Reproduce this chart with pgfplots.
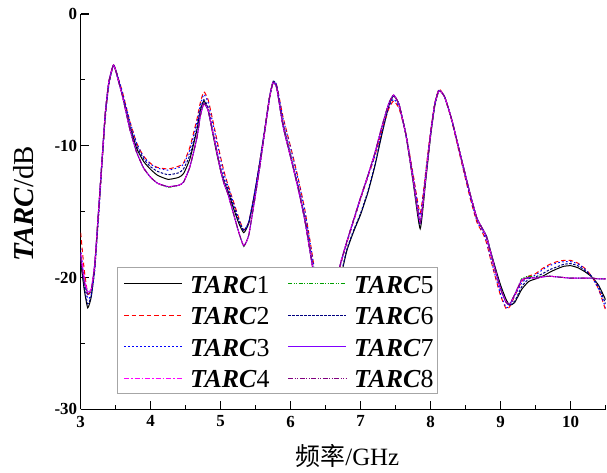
\documentclass[border=0pt]{standalone}
\usepackage{fontspec}
\setmainfont{Liberation Serif}
\newfontfamily\cjk{Noto Sans CJK SC}
\usepackage{pgfplots}
\pgfplotsset{compat=1.18}
\usepackage{pgfplotstable}
\usetikzlibrary{calc}

\definecolor{tarcblack}{RGB}{0,0,0}
\definecolor{tarcred}{RGB}{255,0,0}
\definecolor{tarcblue}{RGB}{0,0,255}
\definecolor{tarcmagenta}{RGB}{255,0,255}
\definecolor{tarcgreen}{RGB}{0,160,0}
\definecolor{tarcnavy}{RGB}{0,0,128}
\definecolor{tarcviolet}{RGB}{128,0,255}
\definecolor{tarcpurple}{RGB}{128,0,128}

\tikzset{
  tarc1/.style={color=tarcblack},
  tarc2/.style={color=tarcred, dash pattern=on 4.5bp off 3bp},
  tarc3/.style={color=tarcblue, dash pattern=on 1.5bp off 2.5bp},
  tarc4/.style={color=tarcmagenta, dash pattern=on 5bp off 2bp on 1.5bp off 2bp},
  tarc5/.style={color=tarcgreen, dash pattern=on 4bp off 1.5bp on 1bp off 1.5bp on 1bp off 1.5bp},
  tarc6/.style={color=tarcnavy, dash pattern=on 2.5bp off 1.5bp},
  tarc7/.style={color=tarcviolet},
  tarc8/.style={color=tarcpurple, dash pattern=on 5bp off 1.5bp on 1bp off 1.5bp on 1bp off 1.5bp},
  keytext/.style={anchor=base west, inner sep=0pt, font=\fontsize{26}{26}\selectfont},
}

\newcommand{\tarc}[1]{\textbf{\textit{TARC}}#1}

% ports 1, 2, 3, 6
\pgfplotstableread{
f     t1     t2     t3     t6
3.00 -18.8  -16.6  -17.8  -18.6
3.05 -20.9  -19.4  -20.2  -20.7
3.10 -22.3  -21.2  -21.6  -22.0
3.15 -21.5  -21.0  -21.3  -21.4
3.20 -19.2  -19.3  -19.6  -19.2
3.25 -15.4  -15.6  -15.9  -15.4
3.30 -11.5  -11.7  -11.9  -11.5
3.35 -7.7   -7.9   -8.0   -7.7
3.40 -5.3   -5.4   -5.5   -5.3
3.47 -3.87  -3.87  -3.87  -3.87
3.55 -5.2   -5.1   -5.1   -5.2
3.60 -6.2   -6.0   -6.0   -6.2
3.70 -8.5   -8.1   -8.1   -8.4
3.80 -10.2  -9.8   -9.8   -10.0
3.90 -11.2  -10.8  -10.85 -11.0
4.00 -11.8  -11.35 -11.4  -11.6
4.10 -12.25 -11.65 -11.7  -11.95
4.25 -12.55 -11.76 -11.85 -12.2
4.40 -12.4  -11.55 -11.65 -12.05
4.47 -12.1  -11.3  -11.4  -11.75
4.56 -11.0  -10.1  -10.3  -10.7
4.66 -8.8   -8.0   -8.2   -8.6
4.71 -7.3   -6.7   -6.9   -7.2
4.76 -6.6   -5.9   -6.1   -6.5
4.82 -7.3   -6.5   -6.7   -7.1
4.88 -8.9   -7.9   -8.1   -8.7
4.94 -10.5  -9.4   -9.6   -10.3
5.00 -11.9  -10.9  -11.1  -11.7
5.05 -12.8  -12.0  -12.2  -12.6
5.10 -13.4  -12.9  -13.0  -13.2
5.18 -14.7  -14.2  -14.3  -14.5
5.26 -15.9  -15.5  -15.6  -15.7
5.33 -16.6  -16.4  -16.4  -16.45
5.40 -15.9  -15.8  -15.8  -15.8
5.47 -14.1  -14.0  -14.0  -14.0
5.55 -11.6  -11.5  -11.5  -11.5
5.63 -8.8   -8.7   -8.7   -8.7
5.70 -6.3   -6.2   -6.2   -6.2
5.75 -5.15  -5.15  -5.15  -5.1
5.80 -5.6   -5.4   -5.4   -5.5
5.89 -8.4   -7.8   -7.9   -8.3
6.00 -10.8  -10.1  -10.2  -10.7
6.10 -13.0  -12.3  -12.4  -12.9
6.20 -15.5  -14.8  -14.9  -15.4
6.30 -18.7  -18.0  -18.1  -18.6
6.40 -22.0  -21.5  -21.6  -22.0
6.50 -24.5  -24.3  -24.3  -24.5
6.60 -23.5  -22.6  -22.6  -23.5
6.70 -20.4  -19.3  -19.3  -20.3
6.80 -18.0  -17.4  -17.4  -17.9
6.90 -16.5  -15.7  -15.7  -16.4
7.00 -15.2  -14.0  -14.0  -15.1
7.10 -13.6  -12.4  -12.4  -13.5
7.20 -11.6  -10.8  -10.8  -11.5
7.30 -9.2   -8.9   -8.9   -9.1
7.40 -7.0   -7.2   -7.1   -7.0
7.47 -6.2   -6.6   -6.45  -6.2
7.55 -6.9   -7.2   -7.1   -6.9
7.65 -9.3   -9.2   -9.2   -9.2
7.75 -12.8  -12.2  -12.3  -12.6
7.85 -16.3  -15.1  -15.3  -16.0
7.93 -12.6  -11.9  -12.0  -12.4
8.00 -9.2   -8.8   -8.9   -9.1
8.06 -6.9   -6.7   -6.7   -6.9
8.12 -5.8   -5.7   -5.75  -5.8
8.20 -6.3   -6.3   -6.3   -6.3
8.30 -8.0   -8.1   -8.1   -8.0
8.42 -10.6  -10.8  -10.7  -10.6
8.56 -13.6  -13.9  -13.8  -13.6
8.66 -15.5  -15.8  -15.7  -15.5
8.75 -16.4  -16.7  -16.6  -16.4
8.80 -16.9  -17.4  -17.3  -16.9
8.85 -17.9  -18.5  -18.4  -17.9
8.92 -19.2  -19.9  -19.8  -19.3
9.00 -20.6  -21.4  -21.3  -20.8
9.08 -21.7  -22.4  -22.3  -21.9
9.13 -22.1  -22.2  -22.1  -22.1
9.20 -21.9  -21.4  -21.4  -21.8
9.30 -20.9  -20.3  -20.4  -20.7
9.40 -20.3  -19.9  -20.0  -20.1
9.50 -20.1  -19.7  -19.8  -19.95
9.60 -19.9  -19.3  -19.4  -19.7
9.70 -19.6  -19.0  -19.1  -19.4
9.80 -19.35 -18.8  -18.9  -19.2
9.90 -19.15 -18.7  -18.8  -19.0
10.00 -19.1 -18.7  -18.8  -18.95
10.10 -19.25 -18.9 -18.95 -19.1
10.20 -19.55 -19.3 -19.35 -19.45
10.30 -19.95 -19.9 -19.95 -19.9
10.40 -20.6 -20.9  -20.9  -20.7
10.50 -21.7 -22.5  -22.3  -22.0
}\tabA

% ports 4, 5, 7, 8
\pgfplotstableread{
f     t4     t5     t7     t8
3.00 -18.1  -18.4  -18.3  -18.5
3.05 -20.0  -20.3  -20.2  -20.4
3.10 -21.1  -21.2  -21.1  -21.3
3.15 -20.9  -21.0  -20.9  -21.0
3.20 -19.0  -19.0  -19.0  -19.1
3.25 -15.3  -15.3  -15.3  -15.4
3.30 -11.4  -11.4  -11.4  -11.5
3.35 -7.6   -7.6   -7.6   -7.6
3.40 -5.2   -5.2   -5.2   -5.2
3.47 -3.87  -3.87  -3.87  -3.87
3.55 -5.3   -5.3   -5.3   -5.3
3.60 -6.3   -6.3   -6.3   -6.3
3.70 -8.7   -8.7   -8.7   -8.7
3.80 -10.5  -10.5  -10.5  -10.5
3.90 -11.7  -11.7  -11.7  -11.7
4.00 -12.4  -12.4  -12.4  -12.4
4.10 -12.85 -12.85 -12.85 -12.85
4.25 -13.1  -13.15 -13.1  -13.1
4.40 -13.0  -13.0  -13.0  -13.0
4.47 -12.75 -12.75 -12.75 -12.75
4.56 -11.6  -11.6  -11.6  -11.6
4.66 -9.4   -9.4   -9.4   -9.4
4.71 -7.7   -7.7   -7.7   -7.7
4.76 -6.8   -6.8   -6.8   -6.8
4.82 -7.3   -7.3   -7.3   -7.3
4.88 -8.8   -8.8   -8.8   -8.8
4.94 -10.3  -10.3  -10.3  -10.3
5.00 -11.9  -11.9  -11.9  -11.9
5.05 -12.9  -12.9  -12.9  -12.9
5.10 -13.6  -13.6  -13.6  -13.6
5.18 -15.1  -15.1  -15.1  -15.1
5.26 -16.6  -16.6  -16.6  -16.6
5.33 -17.6  -17.65 -17.6  -17.6
5.40 -16.8  -16.8  -16.8  -16.8
5.47 -14.6  -14.6  -14.6  -14.6
5.55 -11.9  -11.9  -11.9  -11.9
5.63 -8.9   -8.9   -8.9   -8.9
5.70 -6.3   -6.3   -6.3   -6.3
5.75 -5.2   -5.2   -5.2   -5.2
5.80 -5.6   -5.6   -5.6   -5.6
5.89 -8.5   -8.5   -8.5   -8.5
6.00 -10.9  -10.9  -10.9  -10.9
6.10 -13.1  -13.1  -13.1  -13.1
6.20 -15.6  -15.6  -15.6  -15.6
6.30 -18.8  -18.8  -18.8  -18.8
6.40 -22.0  -22.0  -22.0  -22.0
6.50 -24.3  -24.3  -24.3  -24.3
6.60 -22.6  -22.6  -22.6  -22.6
6.70 -19.2  -19.2  -19.2  -19.2
6.80 -17.3  -17.3  -17.3  -17.3
6.90 -15.6  -15.6  -15.6  -15.6
7.00 -13.9  -13.9  -13.9  -13.9
7.10 -12.3  -12.3  -12.3  -12.3
7.20 -10.6  -10.6  -10.6  -10.6
7.30 -8.6   -8.6   -8.6   -8.6
7.40 -6.8   -6.8   -6.8   -6.8
7.47 -6.15  -6.15  -6.15  -6.15
7.55 -6.9   -6.9   -6.9   -6.9
7.65 -9.3   -9.3   -9.3   -9.3
7.75 -12.6  -12.6  -12.6  -12.6
7.85 -15.8  -15.8  -15.8  -15.8
7.93 -12.3  -12.3  -12.3  -12.3
8.00 -9.0   -9.0   -9.0   -9.0
8.06 -6.8   -6.8   -6.8   -6.8
8.12 -5.8   -5.8   -5.8   -5.8
8.20 -6.3   -6.3   -6.3   -6.3
8.30 -8.0   -8.0   -8.0   -8.0
8.42 -10.6  -10.6  -10.6  -10.6
8.56 -13.6  -13.6  -13.6  -13.6
8.66 -15.5  -15.5  -15.5  -15.5
8.75 -16.4  -16.4  -16.4  -16.4
8.80 -17.0  -17.0  -17.0  -17.0
8.85 -18.0  -18.0  -18.0  -18.0
8.92 -19.4  -19.4  -19.4  -19.4
9.00 -20.9  -20.9  -20.9  -20.9
9.08 -21.9  -21.9  -21.9  -21.9
9.13 -22.0  -22.0  -22.0  -22.0
9.20 -21.3  -21.3  -21.3  -21.3
9.30 -20.2  -20.1  -20.2  -20.2
9.40 -20.0  -19.9  -20.0  -20.0
9.50 -20.05 -20.0  -20.05 -20.05
9.60 -19.95 -19.9  -19.95 -19.95
9.70 -19.9  -19.9  -19.9  -19.9
9.80 -19.95 -19.95 -19.95 -19.95
9.90 -20.0  -20.0  -20.0  -20.0
10.00 -20.05 -20.05 -20.05 -20.05
10.10 -20.05 -20.05 -20.05 -20.05
10.20 -20.05 -20.05 -20.05 -20.05
10.30 -20.05 -20.05 -20.05 -20.05
10.40 -20.1  -20.1  -20.1  -20.1
10.50 -20.1  -20.1  -20.1  -20.1
}\tabB

\begin{document}
\begin{tikzpicture}
\begin{axis}[
  name=ax,
  scale only axis, width=525bp, height=395.3bp,
  xmin=3, xmax=10.5, ymin=-30, ymax=0,
  axis x line=bottom, axis y line=left,
  axis line style={-, line width=1.2bp, black},
  xtick={3,4,5,6,7,8,9,10},
  xticklabels={3,4,5,6,7,8,9,10},
  minor xtick={3.5,4.5,5.5,6.5,7.5,8.5,9.5,10.5},
  ytick={-30,-20,-10,0},
  yticklabels={-30,-20,-10,0},
  minor ytick={-25,-15,-5},
  tick align=inside,
  major tick length=8bp, minor tick length=4.3bp,
  every tick/.style={line width=1.1bp, black},
  ticklabel style={font=\fontsize{17}{17}\selectfont\bfseries},
  xticklabel style={yshift=-3bp},
  xlabel={{\cjk 频率}/GHz},
  ylabel={\tarc{}/dB},
  x label style={font=\fontsize{25}{25}\selectfont,
    at={(axis description cs:0.508,-0.118)}, anchor=center},
  y label style={font=\fontsize{29}{29}\selectfont,
    at={(axis description cs:-0.108,0.52)}, anchor=center},
  every axis plot/.append style={line width=1bp, smooth, tension=0.3},
]
\addplot[tarc1] table[x=f, y=t1] {\tabA};
\addplot[tarc2] table[x=f, y=t2] {\tabA};
\addplot[tarc3] table[x=f, y=t3] {\tabA};
\addplot[tarc6] table[x=f, y=t6] {\tabA};
\addplot[tarc5] table[x=f, y=t5] {\tabB};
\addplot[tarc7] table[x=f, y=t7] {\tabB};
\addplot[tarc4] table[x=f, y=t4] {\tabB};
\addplot[tarc8] table[x=f, y=t8] {\tabB};
\end{axis}
% key: two columns of four entries, framed box over the lower left of the plot
\begin{scope}[shift={(ax.south west)}, x=1bp, y=1bp]
  \draw[black!35, line width=0.8bp, fill=white] (36.3,16.3) rectangle (356.3,142.3);
  \foreach \n/\col/\row in {1/0/0, 2/0/1, 3/0/2, 4/0/3, 5/1/0, 6/1/1, 7/1/2, 8/1/3} {
    \pgfmathsetmacro{\kx}{43.3 + 164*\col}
    \pgfmathsetmacro{\ky}{125.3 - 31.5*\row}
    \draw[tarc\n, line width=1bp] (\kx,\ky) -- ({\kx+57.7},\ky);
    \node[keytext] at ({\kx+66},{\ky-9.3}) {\tarc{\n}};
  }
\end{scope}
\pgfresetboundingbox
\path ($(ax.south west)+(-80.7bp,-63.7bp)$) rectangle ($(ax.south west)+(526.3bp,409.3bp)$);
\end{tikzpicture}
\end{document}
